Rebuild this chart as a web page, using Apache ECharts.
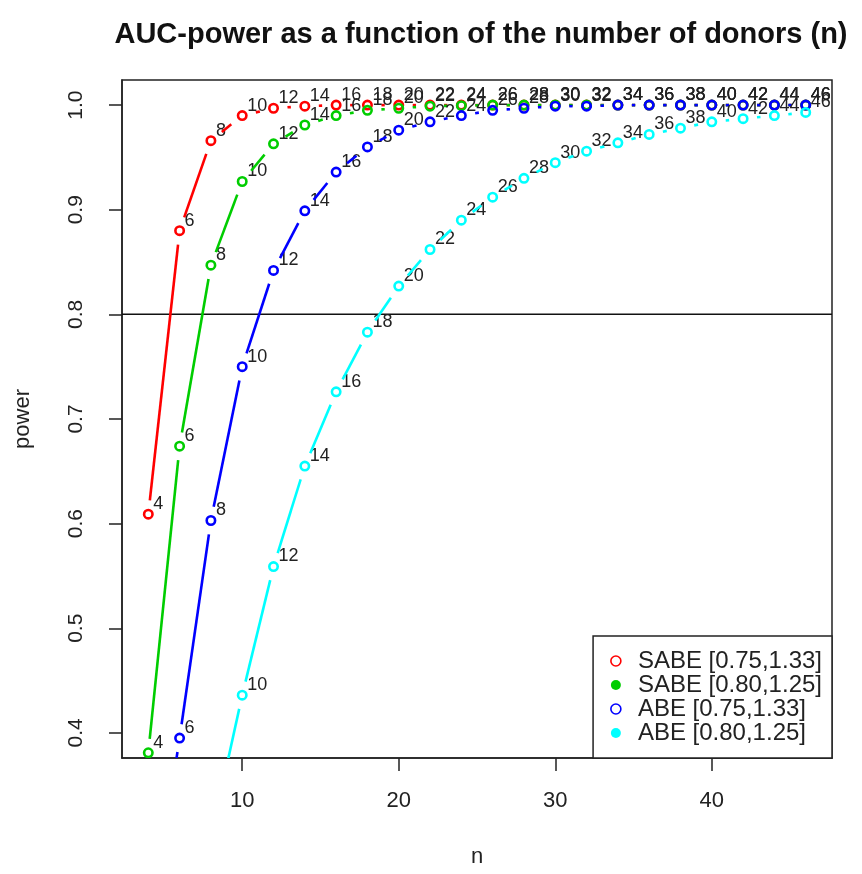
<!DOCTYPE html>
<html>
<head>
<meta charset="UTF-8">
<title>AUC-power</title>
<style>
html,body{margin:0;padding:0;background:#fff;}
#main{width:862px;height:874px;}
</style>
</head>
<body>
<div id="main"></div>
<script src="https://cdn.jsdelivr.net/npm/echarts@6/dist/echarts.min.js"></script>
<script>
// number of donors
var donors = [4,6,8,10,12,14,16,18,20,22,24,26,28,30,32,34,36,38,40,42,44,46];
// power per design
var sabe75 = [0.609,0.880,0.966,0.990,0.997,0.999,1,1,1,1,1,1,1,1,1,1,1,1,1,1,1,1];
var sabe80 = [0.381,0.674,0.847,0.927,0.963,0.981,0.990,0.995,0.997,0.999,0.9995,1,1,1,1,1,1,1,1,1,1,1];
var abe75  = [0.20,0.395,0.603,0.750,0.842,0.899,0.936,0.960,0.976,0.984,0.990,0.995,0.997,0.999,0.999,1,1,1,1,1,1,1];
var abe80  = [0.08,0.18,0.30,0.436,0.559,0.655,0.726,0.783,0.827,0.862,0.890,0.912,0.930,0.945,0.956,0.964,0.972,0.978,0.984,0.987,0.990,0.993];

var seriesNames = ['SABE [0.75,1.33]','SABE [0.80,1.25]','ABE [0.75,1.33]','ABE [0.80,1.25]'];
var seriesColors = ['#ff0000','#00cd00','#0000ff','#00ffff'];
var legendFilled = [false,true,false,true];

var xTicks = [10,20,30,40];
var yTicks = [0.4,0.5,0.6,0.7,0.8,0.9,1.0];
var xRange = [2.32,47.68];
var yRange = [0.376,1.024];
var refPower = 0.8;

var font = 'Liberation Sans, Arial, sans-serif';
var GAP = 14;

var myChart = echarts.init(document.getElementById('main'));

function toData(vals){
	return vals.map(function(v,i){
		var j = i>0 ? i-1 : i;
		return [donors[i], v, donors[j], vals[j]];
	});
}

// type="b" look: segments stop short of the points, open circles, number labels
function makeRender(color){
	return function(params, api){
		var p = api.coord([api.value(0), api.value(1)]);
		var q = api.coord([api.value(2), api.value(3)]);
		var children = [];
		var dx = p[0]-q[0], dy = p[1]-q[1];
		var len = Math.sqrt(dx*dx+dy*dy);
		if(len > 2*GAP){
			var ux = dx/len, uy = dy/len;
			children.push({
				type:'line',
				shape:{x1:q[0]+ux*GAP, y1:q[1]+uy*GAP, x2:p[0]-ux*GAP, y2:p[1]-uy*GAP},
				style:{stroke:color, lineWidth:2.6}
			});
		}
		children.push({
			type:'circle',
			shape:{cx:p[0], cy:p[1], r:4.2},
			style:{fill:'none', stroke:color, lineWidth:2.6}
		});
		children.push({
			type:'text',
			x:p[0]+5, y:p[1]-10,
			style:{text:String(api.value(0)), fill:'#222', font:'18px '+font, align:'left', verticalAlign:'middle'}
		});
		return {type:'group', children:children};
	};
}

var groups = [sabe75, sabe80, abe75, abe80];
var series = [{
	type:'line',
	data:[[xRange[0],refPower],[xRange[1],refPower]],
	symbol:'none',
	silent:true,
	lineStyle:{color:'#111', width:1.5},
	z:2
}];
groups.forEach(function(vals,k){
	series.push({
		name:seriesNames[k],
		type:'custom',
		clip:true,
		renderItem:makeRender(seriesColors[k]),
		itemStyle:{color:seriesColors[k]},
		encode:{x:0, y:1},
		data:toData(vals),
		z:3+k
	});
});

myChart.setOption({
	animation:false,
	backgroundColor:'#fff',
	title:{
		text:'AUC-power as a function of the number of donors (n)',
		left:476, top:15, textAlign:'center',
		textStyle:{fontSize:29, fontWeight:'bold', color:'#111', fontFamily:font}
	},
	grid:{
		left:122, right:30, top:80, bottom:116,
		show:true, borderColor:'#222', borderWidth:1.5, backgroundColor:'#fff'
	},
	legend:{
		orient:'vertical', right:30, bottom:116,
		padding:[13,10,13,17],
		itemWidth:10, itemHeight:10, itemGap:0,
		selectedMode:false,
		borderColor:'#222', borderWidth:1.5, backgroundColor:'#fff',
		textStyle:{fontSize:24, color:'#222', fontFamily:font, padding:[0,0,0,12]},
		data:seriesNames.map(function(nm,k){
			return {
				name:nm, icon:'circle',
				itemStyle: legendFilled[k] ? {color:seriesColors[k], borderWidth:0} : {color:'#fff', borderColor:seriesColors[k], borderWidth:1.6}
			};
		}),
		z:10
	},
	xAxis:{
		type:'value', min:xRange[0], max:xRange[1],
		name:'n', nameLocation:'middle', nameGap:88,
		nameTextStyle:{fontSize:22, color:'#222', fontFamily:font},
		axisLine:{show:true, lineStyle:{color:'#222', width:1.5}},
		splitLine:{show:false},
		axisTick:{show:true, inside:false, length:13, customValues:xTicks, lineStyle:{color:'#222', width:1.5}},
		axisLabel:{customValues:xTicks, fontSize:22, color:'#222', margin:32, fontFamily:font}
	},
	yAxis:{
		type:'value', min:yRange[0], max:yRange[1],
		name:'power', nameLocation:'middle', nameGap:88,
		nameTextStyle:{fontSize:22, color:'#222', fontFamily:font},
		axisLine:{show:true, lineStyle:{color:'#222', width:1.5}},
		splitLine:{show:false},
		axisTick:{show:true, inside:false, length:13, customValues:yTicks, lineStyle:{color:'#222', width:1.5}},
		axisLabel:{customValues:yTicks, rotate:90, fontSize:21, color:'#222', margin:35, fontFamily:font,
			formatter:function(v){ return v.toFixed(1); }}
	},
	series:series
});
</script>
</body>
</html>
